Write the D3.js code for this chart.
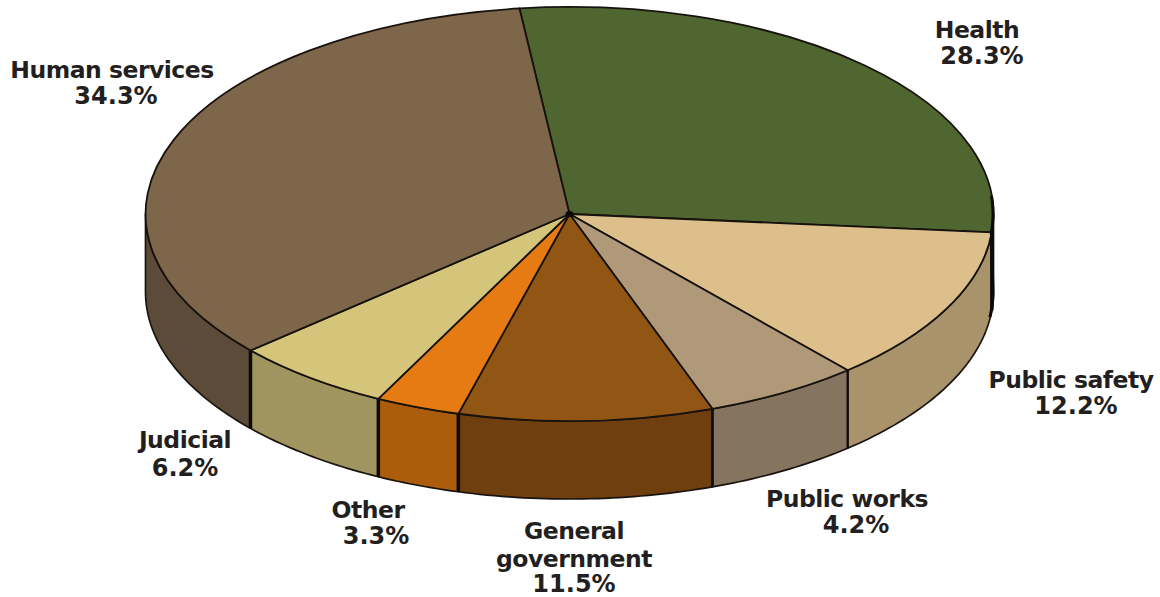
<!DOCTYPE html>
<html>
<head>
<meta charset="utf-8">
<script src="https://cdn.jsdelivr.net/npm/d3@7"></script>
<style>
html,body{margin:0;padding:0;background:#fff;overflow:hidden}
svg{display:block}
text{font-family:"DejaVu Sans",sans-serif;font-weight:700;font-size:24px;fill:#231f20;text-anchor:middle}
text.name{font-size:23.5px;letter-spacing:-0.5px}
.face{vector-effect:non-scaling-stroke}
</style>
</head>
<body>
<svg id="c" width="1160" height="597"></svg>
<script>
// Data
const categories = ["Health","Public safety","Public works","General government","Other","Judicial","Human services"];
const shareLabels = ["28.3%","12.2%","4.2%","11.5%","3.3%","6.2%","34.3%"];
// Angular span of each drawn slice (degrees)
const drawnSpans = [101.9,43.9,21.3,34.9,11.6,22.0,124.4];
const topColors = ["#4f6630","#dcbf8a","#af9979","#925614","#e57b12","#d5c57b","#7d664a"];
const wallColors = ["#4f6630","#a8936b","#857560","#6f3f10","#ab5d0b","#a0945f","#5c4b38"];
const dividerWidths = [3.5,2,2.5,3.5,3.5,3.5];
const labelLines = [["Health"],["Public safety"],["Public works"],["General","government"],["Other"],["Judicial"],["Human services"]];
const labelAnchors = [[977,38,982,64],[1071,388,1076,414],[847,507,856,533],[574,539,574,592],[368,518,376,544],[185,448,185,476],[112,78,116,104]];

const W=1160,H=597, cx=569.5, cy=214, rx=424, ry=207, depth=78;
const svg=d3.select("#c");
const deg=Math.PI/180;
const pie=d3.pie().sort(null).value(d=>d).startAngle(-6.8*deg).endAngle(353.2*deg);
const arcs=pie(drawnSpans);
const sx=d3.scaleLinear().domain([-1,1]).range([cx-rx,cx+rx]);
const sy=d3.scaleLinear().domain([-1,1]).range([cy-ry,cy+ry]);
const px=t=>sx(Math.sin(t)), py=t=>sy(-Math.cos(t));

// Walls: only the front half of the disc (90deg to 270deg) is visible
const wall=(a0,a1)=>{
  const s=Math.max(a0,90*deg), e=Math.min(a1,270*deg);
  if(e<=s) return null;
  const p=d3.path();
  p.moveTo(px(s),py(s));
  const n=Math.ceil((e-s)/deg);
  const ts=d3.range(n+1).map(i=>s+(e-s)*i/n);
  ts.forEach(t=>p.lineTo(px(t),py(t)));
  ts.slice().reverse().forEach(t=>p.lineTo(px(t),py(t)+depth));
  p.closePath();
  return p.toString();
};
const walls=svg.append("g");
arcs.forEach((a,i)=>{
  const d=wall(a.startAngle,a.endAngle);
  if(d) walls.append("path").attr("d",d).attr("fill",wallColors[i]).attr("stroke","#1a1410").attr("stroke-width",1.7).attr("stroke-linejoin","round");
});
// Vertical dividers
arcs.slice(0,-1).forEach((a,i)=>{
  const t=a.endAngle;
  svg.append("line").attr("x1",px(t)).attr("x2",px(t)).attr("y1",py(t)).attr("y2",py(t)+depth)
    .attr("stroke","#0d0a08").attr("stroke-width",dividerWidths[i]);
});

// Top faces
const arc=d3.arc().innerRadius(0).outerRadius(1);
const topFaces=svg.append("g").attr("transform",`translate(${cx},${cy}) scale(${rx},${ry})`);
topFaces.selectAll("path").data(arcs).join("path").attr("class","face")
  .attr("d",arc).attr("fill",(d,i)=>topColors[i])
  .attr("stroke","#17120e").attr("stroke-width",1.8).attr("stroke-linejoin","round");

// Heavy rim on the right: along the top ellipse, then down the wall
const rimLine=d3.line();
const rimTop=d3.range(85,95.5,0.5).map(v=>[px(v*deg)-0.5,py(v*deg)]);
const rimBottom=d3.range(90,98,1).map(v=>[px(v*deg)-0.5,py(v*deg)+depth]);
svg.append("path").attr("d",rimLine(rimTop.concat(rimBottom))).attr("fill","none")
  .attr("stroke","#0d0a08").attr("stroke-width",3).attr("stroke-linejoin","round");

// Knot at the hub where the slice edges meet
svg.append("ellipse").attr("cx",cx).attr("cy",cy).attr("rx",4).attr("ry",3).attr("fill","#0d0a08");

// Labels
categories.forEach((c,i)=>{
  const [x1,y1,x2,y2]=labelAnchors[i];
  labelLines[i].forEach((l,j)=>{
    svg.append("text").attr("class","name").attr("x",x1).attr("y",y1+j*27.5).text(l);
  });
  svg.append("text").attr("x",x2).attr("y",y2).text(shareLabels[i]);
});
</script>
</body>
</html>
